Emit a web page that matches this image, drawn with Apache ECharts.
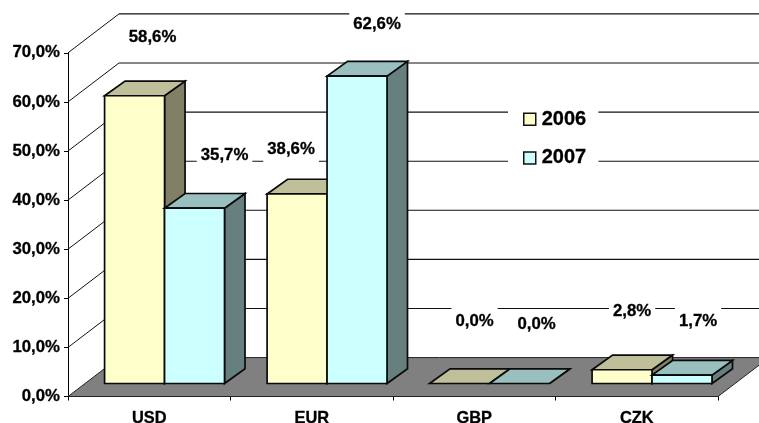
<!DOCTYPE html>
<html>
<head>
<meta charset="utf-8">
<style>html,body{margin:0;padding:0;background:#fff}#chart{width:759px;height:423px}</style>
<script src="https://cdn.jsdelivr.net/npm/echarts@6/dist/echarts.min.js"></script>
</head>
<body>
<div id="chart"></div>
<script>
// Currency structure by year, in percent
const categories = ['USD', 'EUR', 'GBP', 'CZK'];
const values2006 = [58.6, 38.6, 0.0, 2.8];
const values2007 = [35.7, 62.6, 0.0, 1.7];
const axisTicks = [0, 10, 20, 30, 40, 50, 60, 70];

// Projection of the pseudo-3D box
const FONT = '"Liberation Sans", Arial, sans-serif';
const wallDepth = [51, -38.9];
const barInset = [15.3, -13];
const barDepth = [20.5, -14.7];
const barShare = 0.369;

// Value label placement relative to the top of each bar
const labelShift2006 = [[18, -58.7], [-6, -44.6], [15, -62], [10, -58]];
const labelShift2007 = [[30, -53], [20, -51.5], [17, -59.5], [16, -53.4]];

const pct = v => v.toFixed(1).replace('.', ',') + '%';

function shade(c, k) {
  return '#' + [1, 3, 5].map(i => Math.round(parseInt(c.substr(i, 2), 16) * k)
    .toString(16).padStart(2, '0')).join('');
}

function line(x1, y1, x2, y2, stroke, width) {
  return { type: 'line', shape: { x1, y1, x2, y2 }, silent: true,
    style: { stroke, lineWidth: width } };
}

// Side wall and back wall gridlines, plus the floor at the zero tick
function renderWalls(params, api) {
  const tick = api.value(0);
  const p = api.coord([0, tick]);
  const cs = params.coordSys;
  const x0 = cs.x, x1 = cs.x + cs.width;
  const bx = x0 + wallDepth[0], by = p[1] + wallDepth[1];
  const kids = [];
  if (tick === 0) {
    kids.push({ type: 'polygon', silent: true,
      shape: { points: [[x0, p[1]], [x1, p[1]], [x1 + wallDepth[0], by], [bx, by]] },
      style: { fill: '#808080', stroke: '#222', lineWidth: 1 } });
  } else {
    kids.push(line(x0, p[1], bx, by, '#111', 1));
    kids.push(line(bx, by, x1 + wallDepth[0], by, '#111', 1.1));
  }
  return { type: 'group', children: kids };
}

function barRenderer(color, shifts) {
  return function (params, api) {
    const i = api.value(0), v = api.value(1);
    const top = api.coord([i, v]), base = api.coord([i, 0]);
    const w = api.size([1, 0])[0] * barShare;
    const offset = params.seriesIndex === 1 ? -w : 0;
    const l = top[0] + barInset[0] + offset;
    const r = l + w;
    const t = top[1] + barInset[1];
    const b = base[1] + barInset[1];
    const dx = barDepth[0], dy = barDepth[1];
    const edge = { stroke: '#0a0a0a', lineWidth: 1.7, lineJoin: 'miter' };
    const face = (pts, fill) => ({ type: 'polygon', silent: true,
      shape: { points: pts }, style: Object.assign({ fill }, edge) });
    const kids = [];
    kids.push(face([[r, t], [r + dx, t + dy], [r + dx, b + dy], [r, b]], shade(color, 0.5)));
    kids.push(face([[l, t], [r, t], [r + dx, t + dy], [l + dx, t + dy]], shade(color, 0.75)));
    if (v > 0) kids.push(face([[l, t], [r, t], [r, b], [l, b]], color));
    const s = shifts[i];
    kids.push({ type: 'text', silent: true, x: (l + r) / 2 + s[0], y: t + s[1],
      style: { text: pct(v), fill: '#000', font: 'bold 16.8px ' + FONT,
        stroke: '#000', lineWidth: 0.3,
        align: 'center', verticalAlign: 'middle',
        backgroundColor: '#fff', padding: [8, 4, 4, 4] } });
    return { type: 'group', children: kids };
  };
}

const chart = echarts.init(document.getElementById('chart'), null, { renderer: 'canvas' });
chart.setOption({
  animation: false,
  backgroundColor: '#ffffff',
  grid: { left: 68, right: 41, top: 52.8, bottom: 26.5, containLabel: false, outerBoundsMode: 'none' },
  legend: {
    left: 508, top: 101, padding: [8, 12, 4, 15], orient: 'vertical',
    backgroundColor: '#ffffff', itemWidth: 12, itemHeight: 12, itemGap: 18.5, z: 3,
    icon: 'rect', itemStyle: { borderColor: '#111', borderWidth: 1.5 },
    data: ['2006', '2007'], selectedMode: false,
    textStyle: { fontFamily: FONT, fontWeight: 'bold', fontSize: 20, color: '#000',
      textBorderColor: '#000', textBorderWidth: 0.3, padding: [0, 0, 0, 1] }
  },
  xAxis: {
    type: 'category', data: categories, boundaryGap: true,
    axisLine: { lineStyle: { color: '#000', width: 1 } },
    axisTick: { show: true, alignWithLabel: false, length: 4, lineStyle: { color: '#000' } },
    axisLabel: { interval: 0, margin: 14, color: '#000', fontFamily: FONT, fontWeight: 'bold',
      fontSize: 16.4, textBorderColor: '#000', textBorderWidth: 0.3 }
  },
  yAxis: {
    type: 'value', min: 0, max: 70, interval: 10,
    splitLine: { show: false },
    axisLine: { show: true, lineStyle: { color: '#000', width: 1 } },
    axisTick: { show: true, length: 4, lineStyle: { color: '#000' } },
    axisLabel: { margin: 8, color: '#000', fontFamily: FONT, fontWeight: 'bold', fontSize: 16.8,
      textBorderColor: '#000', textBorderWidth: 0.3, padding: [4, 0, 0, 0], formatter: pct }
  },
  series: [
    { type: 'custom', name: 'walls', z: 1, silent: true, renderItem: renderWalls,
      encode: { x: 0, y: 0 }, coordinateSystem: 'cartesian2d', clip: false,
      data: axisTicks.map(t => [t]) },
    { type: 'custom', name: '2006', z: 4, renderItem: barRenderer('#FFFFCC', labelShift2006),
      itemStyle: { color: '#FFFFCC' }, encode: { x: 0, y: 1 }, clip: false,
      data: values2006.map((v, i) => [i, v]) },
    { type: 'custom', name: '2007', z: 5, renderItem: barRenderer('#CCFFFF', labelShift2007),
      itemStyle: { color: '#CCFFFF' }, encode: { x: 0, y: 1 }, clip: false,
      data: values2007.map((v, i) => [i, v]) }
  ]
});
</script>
</body>
</html>
